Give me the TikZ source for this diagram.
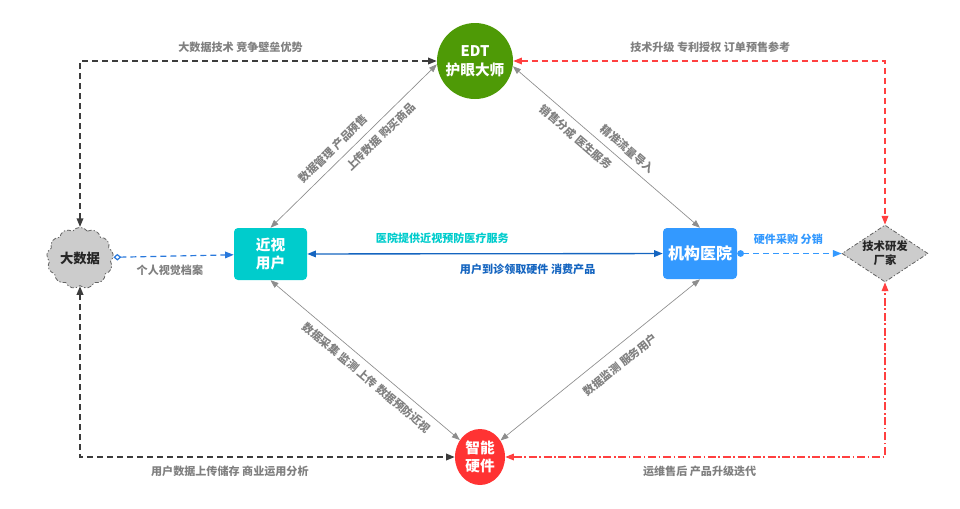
\documentclass[tikz,border=0pt]{standalone}
\usepackage{fontspec}
\setmainfont{Noto Sans CJK SC}
\usetikzlibrary{shapes.geometric,shapes.symbols,arrows.meta}

\definecolor{edtgreen}{RGB}{78,154,6}
\definecolor{usercyan}{RGB}{0,204,204}
\definecolor{hospblue}{RGB}{51,153,255}
\definecolor{hwred}{RGB}{255,51,51}
\definecolor{linkblue}{RGB}{21,101,192}
\definecolor{dashblue}{RGB}{40,120,220}
\definecolor{labelgray}{RGB}{128,128,128}
\definecolor{darkline}{RGB}{60,60,60}
\definecolor{redline}{RGB}{255,64,64}
\definecolor{shapegray}{RGB}{204,204,204}

\begin{document}
\begin{tikzpicture}[
  x=0.75pt, y=-0.75pt,
  lbl/.style={font=\fontsize{8.3}{10}\selectfont\bfseries, text=labelgray, inner sep=2pt},
  box/.style={rounded corners=3pt, text=white, align=center, inner sep=0pt,
    font=\fontsize{11}{14}\selectfont\bfseries},
  greybox/.style={fill=shapegray, draw=darkline!80, dash pattern=on 3pt off 1.5pt on 1pt off 1.5pt,
    text=black!85, align=center, inner sep=0pt, line width=0.6pt},
  thinlink/.style={draw=labelgray!90, line width=0.5pt, {Triangle[length=6pt,width=4.5pt]}-{Triangle[length=6pt,width=4.5pt]}},
  darkdash/.style={draw=darkline, line width=1.1pt, dash pattern=on 4.5pt off 3pt,
    {Triangle[length=6.5pt,width=5pt]}-{Triangle[length=6.5pt,width=5pt]}},
  reddash/.style={draw=redline, line width=0.9pt, dash pattern=on 4.5pt off 3pt,
    {Triangle[length=6.5pt,width=5pt]}-{Triangle[length=6.5pt,width=5pt]}},
  reddot/.style={draw=redline, line width=0.9pt, dash pattern=on 6pt off 2pt on 1.2pt off 2pt,
    {Triangle[length=6.5pt,width=5pt]}-{Triangle[length=6.5pt,width=5pt]}},
]
\useasboundingbox (0,0) rectangle (960,508);

% main actors
\node[circle, fill=edtgreen, box, minimum size=57pt] (edt) at (475,61) {EDT\\护眼大师};
\node[box, fill=usercyan, minimum width=54.75pt, minimum height=39pt] (user) at (270.5,254) {近视\\用户};
\node[box, fill=hospblue, minimum width=55.5pt, minimum height=38.25pt,
      font=\fontsize{12}{14}\selectfont\bfseries] (hosp) at (700,253.5) {机构医院};
\node[ellipse, fill=hwred, box, minimum width=37.5pt, minimum height=42pt] (hw) at (480,457) {智能\\硬件};
\node[cloud, cloud puffs=13, cloud puff arc=110, aspect=1.1, greybox,
      minimum width=50pt, minimum height=46pt,
      font=\fontsize{10}{12}\selectfont\bfseries] (bigdata) at (80,258) {大数据};
\node[diamond, aspect=1.5, greybox, minimum width=64.5pt, minimum height=42.75pt,
      font=\fontsize{8.5}{10.5}\selectfont\bfseries] (maker) at (885,253.5) {技术研发\\厂家};

% outer loop
\draw[darkdash] (bigdata.north) |- (edt.west)
  node[lbl, pos=0.725, above=4pt] {大数据技术 竞争壁垒优势};
\draw[darkdash] (bigdata.south) |- (hw.west)
  node[lbl, pos=0.7, below=4pt] {用户数据上传储存 商业运用分析};
\draw[reddash] (edt.east) -| (maker.north)
  node[lbl, pos=0.265, above=4pt] {技术升级 专利授权 订单预售参考};
\draw[reddot] (hw.east) -| (maker.south)
  node[lbl, pos=0.256, below=4pt] {运维售后 产品升级迭代};

% diamond of thin links
\draw[thinlink] (user.north) -- (edt.185)
  node[lbl, sloped, pos=0.43, above=3pt] {数据管理 产品预售}
  node[lbl, sloped, pos=0.61, below=3pt] {上传数据 购买商品};
\draw[thinlink] (edt.-8) -- (hosp.north)
  node[lbl, sloped, pos=0.38, below=3pt] {销售分成 医生服务}
  node[lbl, sloped, pos=0.57, above=3pt] {精准流量导入};
\draw[thinlink] (user.south) -- (hw)
  node[lbl, sloped, pos=0.55, below=3pt] {数据采集 监测 上传 数据预防近视};
\draw[thinlink] (hw) -- (hosp.south)
  node[lbl, sloped, pos=0.55, below=6pt] {数据监测 服务用户};

% middle row
\draw[draw=dashblue, line width=0.9pt, dash pattern=on 4.5pt off 3pt,
      {Diamond[open,length=6pt,width=5pt]}-{Triangle[length=6.5pt,width=5pt]}] (bigdata) -- (user)
  node[lbl, pos=0.47, below=4pt] {个人视觉档案};
\draw[draw=linkblue, line width=1pt,
      {Triangle[length=6.5pt,width=5pt]}-{Triangle[length=6.5pt,width=5pt]}] (user) -- (hosp)
  node[lbl, text=usercyan, pos=0.38, above=5pt] {医院提供近视预防医疗服务}
  node[lbl, text=linkblue, pos=0.62, below=5pt] {用户到诊领取硬件 消费产品};
\draw[draw=hospblue, line width=0.9pt, dash pattern=on 4.5pt off 3pt,
      {Circle[length=5pt]}-{Triangle[length=6.5pt,width=5pt]}] (hosp) -- (maker)
  node[lbl, text=hospblue, pos=0.49, above=4pt] {硬件采购 分销};
\end{tikzpicture}
\end{document}
